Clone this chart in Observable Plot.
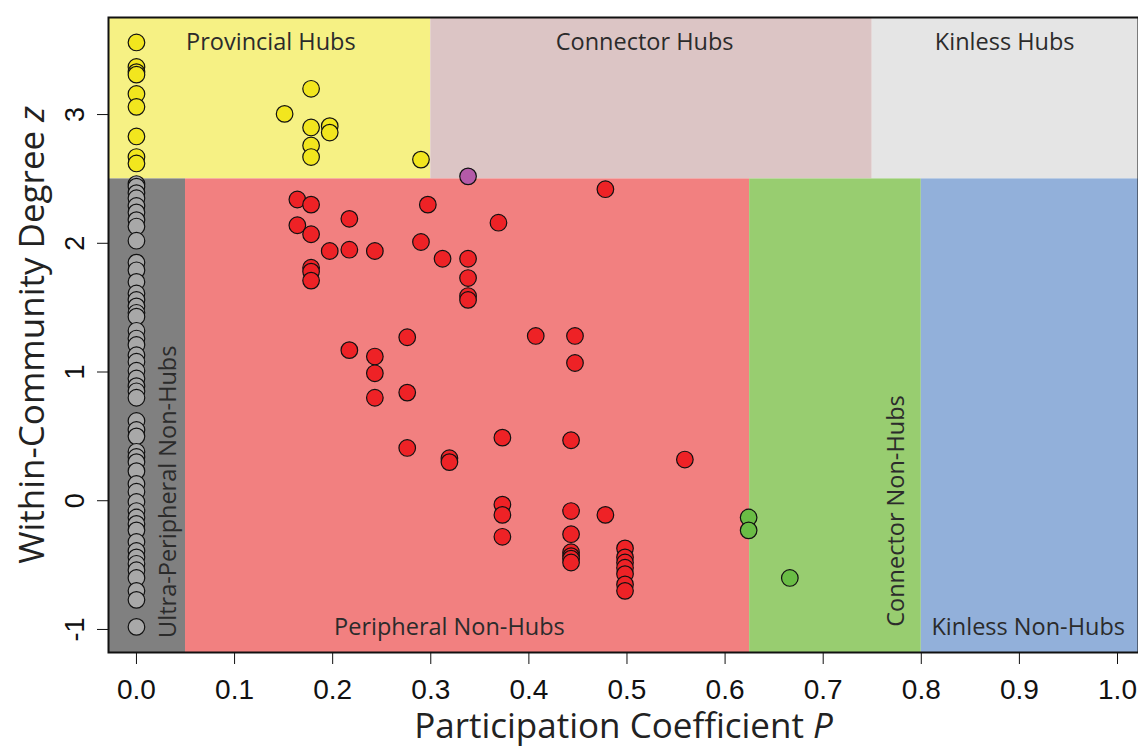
<!DOCTYPE html>
<html>
<head>
<meta charset="utf-8">
<script src="https://cdn.jsdelivr.net/npm/d3@7"></script>
<script src="https://cdn.jsdelivr.net/npm/@observablehq/plot@0.6"></script>
<style>
  html, body { margin: 0; padding: 0; background: #fff; }
  #chart svg { display: block; }
</style>
</head>
<body>
<div id="chart"></div>
<script>
// ---- Data ----
// Role regions (participation coefficient P on x, within-module degree z on y)
const regionNames = ["Provincial Hubs", "Connector Hubs", "Kinless Hubs",
  "Ultra-Peripheral Non-Hubs", "Peripheral Non-Hubs", "Connector Non-Hubs", "Kinless Non-Hubs"];
const regionP1 = [-0.0285, 0.30, 0.75, -0.0285, 0.05, 0.625, 0.80];
const regionP2 = [0.30, 0.75, 1.0214, 0.05, 0.625, 0.80, 1.0214];
const regionZ1 = [2.5, 2.5, 2.5, -1.179, -1.179, -1.179, -1.179];
const regionZ2 = [3.754, 3.754, 3.754, 2.5, 2.5, 2.5, 2.5];
const regionColors = ["#f6f184", "#dcc5c5", "#e5e5e5", "#808080", "#f28080", "#98cd70", "#92b0da"];

// Ultra-peripheral nodes (P = 0)
const grayZ = [2.46, 2.44, 2.39, 2.35, 2.29, 2.24, 2.18, 2.13, 2.02, 1.85, 1.79, 1.70, 1.61, 1.56,
  1.51, 1.46, 1.43, 1.32, 1.26, 1.21, 1.13, 1.08, 1.01, 0.95, 0.89, 0.85, 0.80, 0.62, 0.55, 0.50,
  0.38, 0.34, 0.30, 0.23, 0.13, 0.07, -0.01, -0.08, -0.13, -0.18, -0.23, -0.32, -0.39, -0.44,
  -0.49, -0.54, -0.60, -0.70, -0.77, -0.98];
const grayP = grayZ.map(() => 0);

// Provincial hubs
const yellowP = [0, 0, 0, 0, 0, 0, 0, 0, 0, 0.178, 0.151, 0.178, 0.197, 0.197, 0.178, 0.178, 0.290];
const yellowZ = [3.56, 3.37, 3.33, 3.31, 3.16, 3.06, 2.83, 2.67, 2.62, 3.20, 3.005, 2.90, 2.91, 2.86, 2.76, 2.67, 2.65];

// Connector hub
const purpleP = [0.338];
const purpleZ = [2.52];

// Peripheral non-hubs
const redP = [0.164, 0.178, 0.217, 0.297, 0.369, 0.164, 0.178, 0.290, 0.197, 0.217, 0.243, 0.312,
  0.338, 0.178, 0.178, 0.178, 0.338, 0.338, 0.338, 0.276, 0.217, 0.243, 0.243, 0.276, 0.243,
  0.478, 0.407, 0.447, 0.447,
  0.276, 0.319, 0.319, 0.373, 0.443, 0.559, 0.373, 0.373, 0.373, 0.443, 0.478, 0.443, 0.443,
  0.443, 0.443, 0.443, 0.498, 0.498, 0.498, 0.498, 0.498, 0.498, 0.498];
const redZ = [2.34, 2.30, 2.19, 2.30, 2.16, 2.14, 2.07, 2.01, 1.94, 1.95, 1.94, 1.88,
  1.88, 1.81, 1.78, 1.71, 1.73, 1.59, 1.56, 1.27, 1.17, 1.12, 0.99, 0.84, 0.80,
  2.42, 1.28, 1.28, 1.07,
  0.41, 0.33, 0.30, 0.49, 0.47, 0.32, -0.03, -0.11, -0.28, -0.08, -0.11, -0.26, -0.40,
  -0.43, -0.45, -0.48, -0.37, -0.44, -0.48, -0.52, -0.57, -0.65, -0.70];

// Connector non-hubs
const greenP = [0.624, 0.624, 0.666];
const greenZ = [-0.13, -0.23, -0.60];

const xTicks = [0, 0.1, 0.2, 0.3, 0.4, 0.5, 0.6, 0.7, 0.8, 0.9, 1.0];
const yTicks = [-1, 0, 1, 2, 3];

// ---- Build tables ----
const regions = regionNames.map((name, i) => ({
  name, p1: regionP1[i], p2: regionP2[i], z1: regionZ1[i], z2: regionZ2[i], color: regionColors[i]
}));
const toPts = (P, Z) => P.map((p, i) => ({p, z: Z[i]}));
const gray = toPts(grayP, grayZ);
const yellow = toPts(yellowP, yellowZ);
const purple = toPts(purpleP, purpleZ);
const red = toPts(redP, redZ);
const green = toPts(greenP, greenZ);

// Label placement (anchor positions in data units)
const labelsH = [
  {t: "Provincial Hubs", p: 0.137, z: 3.56},
  {t: "Connector Hubs", p: 0.518, z: 3.56},
  {t: "Kinless Hubs", p: 0.885, z: 3.56},
  {t: "Peripheral Non-Hubs", p: 0.319, z: -0.985},
  {t: "Kinless Non-Hubs", p: 0.909, z: -0.985}
];
const labelsV = [
  {t: "Ultra-Peripheral Non-Hubs", p: 0.033, z: 0.07},
  {t: "Connector Non-Hubs", p: 0.775, z: -0.08}
];

const font = "'Open Sans', 'Noto Sans', sans-serif";
const tickFont = "'Liberation Sans', Arial, sans-serif";
const dotOpts = (fill) => ({x: "p", y: "z", r: 8.3, fill, stroke: "#111", strokeWidth: 1.2});

const chart = Plot.plot({
  width: 1138,
  height: 747,
  marginLeft: 108,
  marginRight: 0,
  marginTop: 17,
  marginBottom: 95,
  style: {fontFamily: font, background: "#fff"},
  x: {domain: [-0.0285, 1.0214]},
  y: {domain: [-1.179, 3.754]},
  marks: [
    Plot.rect(regions, {x1: "p1", x2: "p2", y1: "z1", y2: "z2", fill: "color"}),
    Plot.text(labelsH, {x: "p", y: "z", text: "t", fontSize: 23.5, fill: "#2b2b2b", fontFamily: font}),
    Plot.text(labelsV, {x: "p", y: "z", text: "t", rotate: -90, fontSize: 23.5, fill: "#2b2b2b", fontFamily: font}),
    Plot.dot(gray, dotOpts("#a8a8a8")),
    Plot.dot(yellow, dotOpts("#f2e61e")),
    Plot.dot(purple, dotOpts("#b45aa8")),
    Plot.dot(red, dotOpts("#ee2226")),
    Plot.dot(green, dotOpts("#6abd45")),
    Plot.frame({stroke: "#111", strokeWidth: 2}),
    Plot.axisX({ticks: xTicks, tickFormat: d3.format(".1f"), tickSize: 12, tickPadding: 15,
      fontSize: 28, label: null, fontFamily: tickFont, stroke: "#111", fill: "#111"}),
    Plot.axisY({ticks: yTicks, tickFormat: d => `${d}`, tickSize: 11, tickPadding: 14, tickRotate: -90,
      fontSize: 27, label: null, fontFamily: tickFont, stroke: "#111", fill: "#111"}),
    Plot.text(["Participation Coefficient"], {frameAnchor: "bottom", dy: 85, fontSize: 35,
      fill: "#222", fontFamily: font, className: "xtitle"}),
    Plot.text(["Within-Community Degree z"], {frameAnchor: "left", dx: -76, rotate: -90, fontSize: 35,
      textAnchor: "middle", lineAnchor: "middle", fill: "#222", fontFamily: font, className: "ytitle"})
  ]
});

d3.select(chart).select(".xtitle text").html('Participation Coefficient <tspan font-style="italic">P</tspan>');
d3.select(chart).select(".ytitle text").html('Within-Community Degree <tspan font-style="italic">z</tspan>');
document.getElementById("chart").appendChild(chart);
</script>
</body>
</html>
